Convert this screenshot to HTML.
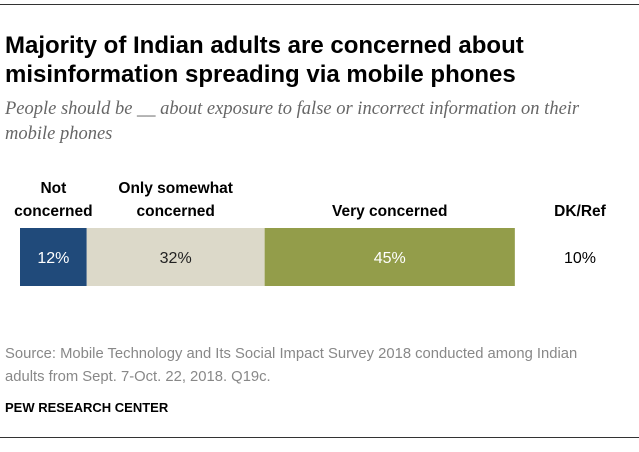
<!DOCTYPE html>
<html><head><meta charset="utf-8"><style>
body{margin:0;width:639px;height:452px;background:#fff;font-family:"Liberation Sans",Arial,sans-serif;position:relative;overflow:hidden}
.abs{position:absolute}
</style></head><body>
<div class="abs" style="left:0;top:4px;width:639px;height:1px;background:#333"></div>
<div class="abs" style="left:5px;top:31px;width:630px;font-size:24px;font-weight:bold;line-height:29px;color:#000">Majority of Indian adults are concerned about misinformation spreading via mobile phones</div>
<div class="abs" style="left:5px;top:97px;width:622px;font-family:'Liberation Serif',serif;font-style:italic;font-size:18.5px;line-height:25px;color:#666">People should be __ about exposure to false or incorrect information on their mobile phones</div>
<svg class="abs" style="left:0;top:0" width="639" height="452">
<g id="g"></g>
</svg>
<div class="abs" style="left:5px;top:343px;width:600px;font-size:14.8px;line-height:23px;color:#888">Source: Mobile Technology and Its Social Impact Survey 2018 conducted among Indian adults from Sept. 7-Oct. 22, 2018. Q19c.</div>
<div class="abs" style="left:5px;top:400px;font-size:13px;font-weight:bold;color:#000">PEW RESEARCH CENTER</div>
<div class="abs" style="left:0;top:437px;width:639px;height:1px;background:#333"></div>
<script>
const categories=["Not concerned","Only somewhat concerned","Very concerned"];
const values=[12,32,45];
const dkLabel="DK/Ref";
const dkValue=10;
const colors=["#204a7a","#dcd9c9","#939d4a"];
const textColors=["#fff","#222","#fff"];
const labelLines=[["Not","concerned"],["Only somewhat","concerned"],["Very concerned"]];
const ns="http://www.w3.org/2000/svg";
const g=document.getElementById('g');
const x0=20,scale=5.56,y=228,h=58;
const xs=v=>x0+v*scale;
let cum=0;
values.forEach((v,i)=>{
  const r=document.createElementNS(ns,'rect');
  
  
  r.setAttribute('x',xs(cum));r.setAttribute('y',y);r.setAttribute('width',v*scale);r.setAttribute('height',h);r.setAttribute('fill',colors[i]);
  g.appendChild(r);
  const cx=xs(cum+v/2);
  const t=document.createElementNS(ns,'text');
  
  
  t.setAttribute('x',cx);t.setAttribute('y',y+h/2+6);t.setAttribute('text-anchor','middle');t.setAttribute('font-size','16');t.setAttribute('fill',textColors[i]);
  t.textContent=v+'%';g.appendChild(t);
  const lines=labelLines[i];
  lines.forEach((ln,j)=>{
    const l=document.createElementNS(ns,'text');
    
    
    l.setAttribute('x',cx);l.setAttribute('y',216-(lines.length-1-j)*23);l.setAttribute('text-anchor','middle');l.setAttribute('font-size','15.5');l.setAttribute('font-weight','bold');
    l.textContent=ln;g.appendChild(l);
  });
  cum+=v;
});
const dx=580;
const dl=document.createElementNS(ns,'text');


dl.setAttribute('x',dx);dl.setAttribute('y',216);dl.setAttribute('text-anchor','middle');dl.setAttribute('font-size','15.5');dl.setAttribute('font-weight','bold');
dl.textContent=dkLabel;g.appendChild(dl);
const dv=document.createElementNS(ns,'text');


dv.setAttribute('x',dx);dv.setAttribute('y',y+h/2+6);dv.setAttribute('text-anchor','middle');dv.setAttribute('font-size','16');
dv.textContent=dkValue+'%';g.appendChild(dv);
</script>
</body></html>
